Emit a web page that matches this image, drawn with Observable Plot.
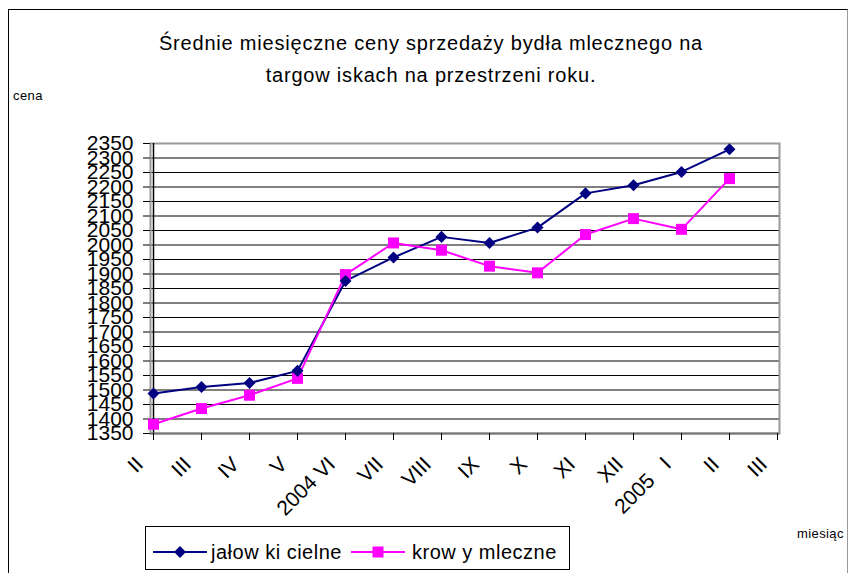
<!DOCTYPE html>
<html>
<head>
<meta charset="utf-8">
<script src="https://cdn.jsdelivr.net/npm/d3@7"></script>
<script src="https://cdn.jsdelivr.net/npm/@observablehq/plot@0.6"></script>
<style>
  html, body { margin: 0; padding: 0; background: #fff; }
  #wrap { position: relative; width: 849px; height: 573px; overflow: hidden; font-family: "Liberation Sans", Arial, sans-serif; color: #000; }
  #border { position: absolute; left: 8px; top: 9px; width: 838px; height: 600px; border-left: 1px solid #000; border-top: 1px solid #000; border-right: 1px solid #999; }
  .t { position: absolute; white-space: pre; line-height: 1; }
  #plot { position: absolute; left: 0; top: 0; }
  #plot svg text { white-space: pre; }
  #legend { position: absolute; left: 145px; top: 526px; width: 423px; height: 42px; border: 1px solid #000; background: #fff; }
</style>
</head>
<body>
<div id="wrap">
  <div id="border"></div>
  <div id="plot"></div>
  <div class="t" id="title1" style="left:0;width:862px;text-align:center;top:33px;font-size:20px;letter-spacing:0.8px;"></div>
  <div class="t" id="title2" style="left:0;width:862px;text-align:center;top:65px;font-size:20px;letter-spacing:0.8px;"></div>
  <div class="t" id="ylab" style="left:13px;top:89px;font-size:13px;letter-spacing:0.4px;"></div>
  <div class="t" id="xlab" style="left:797px;top:527px;font-size:13px;letter-spacing:0.4px;"></div>
  <div id="legend"></div>
</div>
<script>
// ---- data ----
const titleLines = ["Średnie miesięczne ceny sprzedaży bydła mlecznego na", "targow iskach na przestrzeni roku."];
const yAxisLabel = "cena";
const xAxisLabel = "miesiąc";
const months = ["II", "III", "IV", "V", "2004 VI", "VII", "VIII", "IX", "X", "XI", "XII", "2005   I", "II", "III"];
const seriesNames = ["jałow ki cielne", "krow y mleczne"];
const jalowki = [1488, 1510, 1524, 1566, 1876, 1957, 2028, 2007, 2060, 2178, 2206, 2252, 2330];
const krowy = [1382, 1436, 1482, 1540, 1898, 2007, 1982, 1927, 1904, 2036, 2091, 2054, 2229];
const yTicks = d3.range(1350, 2351, 50);
const colors = ["#000080", "#FF00FF"];

document.getElementById("title1").textContent = titleLines[0];
document.getElementById("title2").textContent = titleLines[1];
document.getElementById("ylab").textContent = yAxisLabel;
document.getElementById("xlab").textContent = xAxisLabel;

const jData = jalowki.map((v, i) => ({i, v}));
const kData = krowy.map((v, i) => ({i, v}));
const mData = months.map((m, i) => ({i, m}));

const chart = Plot.plot({
  width: 849,
  height: 573,
  marginTop: 143,
  marginBottom: 140,
  marginLeft: 150,
  marginRight: 70,
  style: {fontFamily: "Liberation Sans, Arial, sans-serif", background: "transparent", color: "#000", overflow: "visible"},
  x: {type: "point", domain: d3.range(months.length), padding: 0, axis: null, label: null},
  y: {domain: [1350, 2350], axis: null, label: null},
  marks: [
    Plot.ruleY(yTicks.slice(1, -1), {stroke: "#000", strokeWidth: 1}),
    Plot.frame({stroke: "#999", strokeWidth: 2}),
    Plot.ruleX([0], {stroke: "#000", strokeWidth: 1.5}),
    Plot.ruleY([1350], {stroke: "#777", strokeWidth: 2}),
    Plot.axisX({ticks: d3.range(months.length), tickSize: 7, tickFormat: () => "", stroke: "#000", label: null}),
    Plot.axisY({ticks: yTicks, tickSize: 7, tickPadding: 10, fontSize: 21, stroke: "#000", label: null, tickFormat: d => String(d)}),
    Plot.text(mData, {x: "i", frameAnchor: "bottom", text: "m", rotate: -45, textAnchor: "end", lineAnchor: "bottom", dx: -9, dy: 32, fontSize: 21}),
    Plot.line(jData, {x: "i", y: "v", stroke: colors[0], strokeWidth: 2}),
    Plot.line(kData, {x: "i", y: "v", stroke: colors[1], strokeWidth: 2}),
    Plot.dot(kData, {x: "i", y: "v", symbol: "square", r: 6.2, fill: colors[1], stroke: null}),
    Plot.dot(jData, {x: "i", y: "v", symbol: "square", rotate: 45, r: 4.8, fill: colors[0], stroke: null})
  ]
});
document.getElementById("plot").appendChild(chart);

// legend
const leg = d3.select("#legend");
const items = [
  {name: seriesNames[0], color: colors[0], shape: "diamond", x0: 7, tx: 65},
  {name: seriesNames[1], color: colors[1], shape: "square", x0: 205, tx: 266}
];
const lsvg = leg.append("svg").attr("width", 423).attr("height", 42).style("position", "absolute").style("left", 0).style("top", 0);
for (const it of items) {
  lsvg.append("line").attr("x1", it.x0).attr("x2", it.x0 + 54).attr("y1", 25).attr("y2", 25).attr("stroke", it.color).attr("stroke-width", 2);
  const cx = it.x0 + 27;
  if (it.shape === "diamond") {
    lsvg.append("path").attr("d", `M${cx},${25 - 6}L${cx + 6},25L${cx},${25 + 6}L${cx - 6},25Z`).attr("fill", it.color);
  } else {
    lsvg.append("rect").attr("x", cx - 5.5).attr("y", 25 - 5.5).attr("width", 11).attr("height", 11).attr("fill", it.color);
  }
  lsvg.append("text").attr("x", it.tx).attr("y", 32).attr("font-size", 20).attr("letter-spacing", 0.5)
    .attr("font-family", "Liberation Sans, Arial, sans-serif").style("white-space", "pre").text(it.name);
}
</script>
</body>
</html>
